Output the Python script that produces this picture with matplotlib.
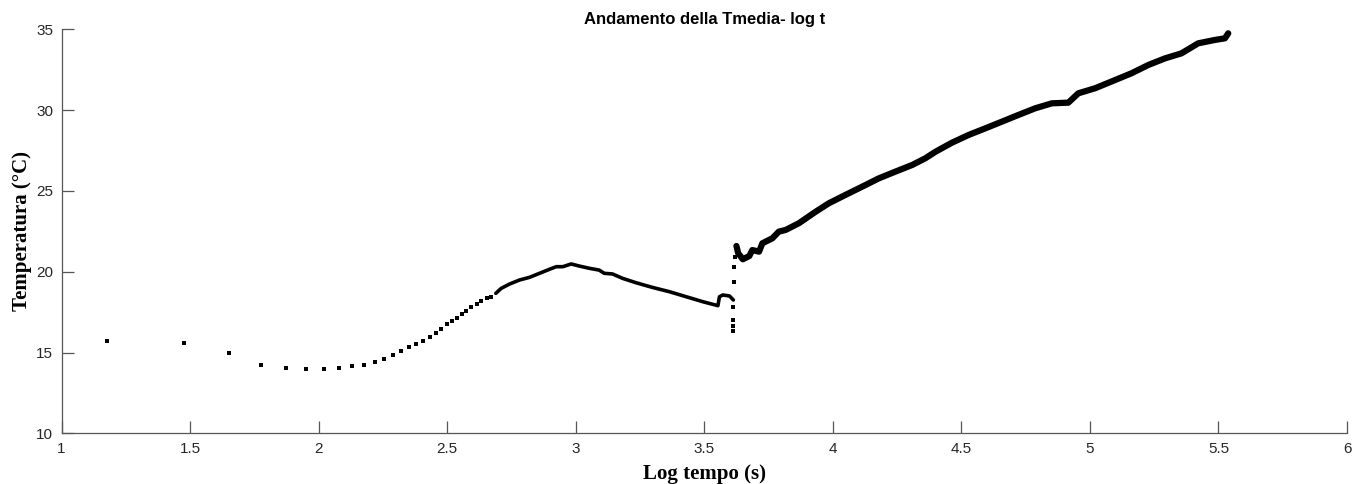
import matplotlib
matplotlib.use('Agg')
import matplotlib.pyplot as plt

# sparse early samples (single markers)
early_x = [1.176, 1.476, 1.652, 1.777, 1.874, 1.952, 2.019, 2.078, 2.129, 2.175,
           2.218, 2.255, 2.290, 2.322, 2.352, 2.380, 2.406, 2.432, 2.455, 2.477,
           2.499, 2.518, 2.537, 2.556, 2.575, 2.594, 2.614, 2.633, 2.653, 2.672]
early_y = [15.73, 15.57, 14.95, 14.25, 14.04, 13.96, 13.98, 14.06, 14.16, 14.25,
           14.41, 14.58, 14.86, 15.11, 15.32, 15.51, 15.71, 15.94, 16.19, 16.44,
           16.76, 16.97, 17.15, 17.38, 17.59, 17.80, 18.00, 18.21, 18.39, 18.45]

# dense middle part
mid_x = [2.689, 2.710, 2.743, 2.782, 2.820, 2.859, 2.898, 2.924, 2.950, 2.982,
         3.014, 3.053, 3.091, 3.111, 3.143, 3.182, 3.234, 3.298, 3.365, 3.430,
         3.495, 3.553, 3.559, 3.572, 3.598, 3.613]
mid_y = [18.66, 18.97, 19.24, 19.49, 19.65, 19.90, 20.15, 20.31, 20.31, 20.48,
         20.35, 20.21, 20.10, 19.90, 19.86, 19.59, 19.32, 19.03, 18.76, 18.45,
         18.14, 17.90, 18.45, 18.56, 18.50, 18.25]

# the jump
jump_x = [3.610, 3.610, 3.610, 3.610, 3.616, 3.616, 3.619]
jump_y = [17.80, 16.99, 16.64, 16.35, 19.38, 20.31, 20.93]

# dense late part
late_x = [3.625, 3.632, 3.650, 3.675, 3.687, 3.713, 3.726, 3.765, 3.790, 3.816,
          3.868, 3.933, 3.984, 4.049, 4.114, 4.178, 4.243, 4.308, 4.360, 4.399,
          4.463, 4.528, 4.593, 4.657, 4.722, 4.787, 4.852, 4.916, 4.955, 5.020,
          5.098, 5.162, 5.227, 5.292, 5.356, 5.421, 5.486, 5.525, 5.538]
late_y = [21.59, 21.14, 20.77, 20.97, 21.34, 21.24, 21.76, 22.07, 22.48, 22.58,
          23.00, 23.71, 24.23, 24.75, 25.26, 25.77, 26.19, 26.60, 27.02, 27.42,
          27.98, 28.46, 28.87, 29.28, 29.70, 30.11, 30.42, 30.46, 31.04, 31.35,
          31.86, 32.28, 32.79, 33.20, 33.51, 34.13, 34.34, 34.44, 34.75]

fig = plt.figure(figsize=(13.71, 4.84), dpi=100)
ax = fig.add_axes([0.0449, 0.1047, 0.9376, 0.8348])

ax.plot(early_x, early_y, 's', color='k', markersize=2.3, markeredgewidth=0)
ax.plot(jump_x, jump_y, 's', color='k', markersize=2.3, markeredgewidth=0)
ax.plot(mid_x, mid_y, '-', color='k', linewidth=2.6, solid_capstyle='round')
ax.plot(late_x, late_y, '-', color='k', linewidth=4.5, solid_capstyle='round')

ax.set_xlim(1, 6)
ax.set_ylim(10, 35)
ax.set_xticks([1, 1.5, 2, 2.5, 3, 3.5, 4, 4.5, 5, 5.5, 6])
ax.set_xticklabels(['1', '1.5', '2', '2.5', '3', '3.5', '4', '4.5', '5', '5.5', '6'])
ax.set_yticks([10, 15, 20, 25, 30, 35])

for s in ['top', 'right']:
    ax.spines[s].set_visible(False)
for s in ['left', 'bottom']:
    ax.spines[s].set_color('#555555')
    ax.spines[s].set_linewidth(0.9)

ax.tick_params(direction='in', length=8.4, width=0.9, color='#555555',
               labelcolor='#262626', labelsize=11, pad=6)
for lab in ax.get_xticklabels() + ax.get_yticklabels():
    lab.set_family('Liberation Sans')

ax.set_title('Andamento della Tmedia- log t', fontsize=12, fontweight='bold',
             family='Liberation Sans', pad=4)
ax.set_xlabel('Log tempo (s)', fontsize=15, fontweight='bold',
              family='Liberation Serif', labelpad=6)
ax.set_ylabel('Temperatura (°C)', fontsize=15, fontweight='bold',
              family='Liberation Serif', labelpad=3)

fig.savefig('out.png', dpi=100)
